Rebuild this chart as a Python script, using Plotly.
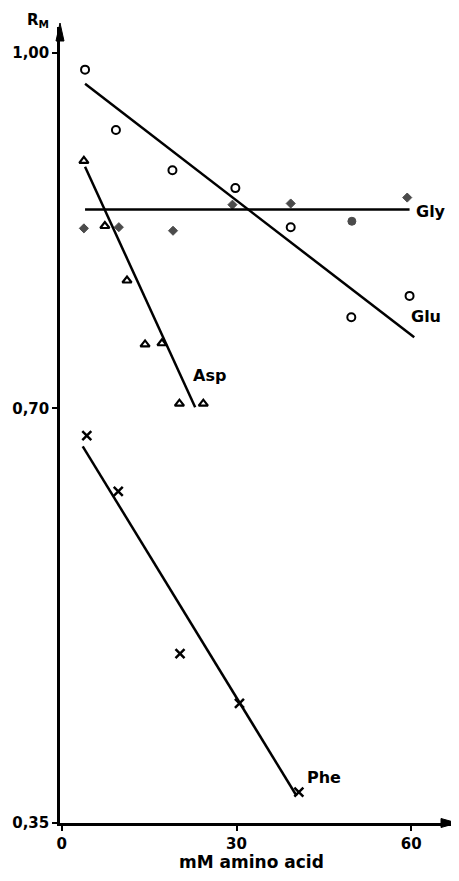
import plotly.graph_objects as go

# ---- data ----
glu_x = [4.0, 9.3, 19.0, 29.8, 39.3, 49.7, 59.7]
glu_y = [0.986, 0.935, 0.901, 0.886, 0.853, 0.777, 0.795]
gly_x = [3.8, 9.8, 19.1, 29.3, 39.3, 49.8, 59.3]
gly_y = [0.852, 0.853, 0.850, 0.872, 0.873, 0.858, 0.878]
asp_x = [3.8, 7.4, 11.2, 14.3, 17.2, 20.2, 24.3]
asp_y = [0.909, 0.854, 0.808, 0.754, 0.755, 0.704, 0.704]
phe_x = [4.3, 9.7, 20.3, 30.5, 40.7]
phe_y = [0.677, 0.630, 0.493, 0.451, 0.376]

# fitted lines (end points)
glu_line_x = [4.0, 60.5]
glu_line_y = [0.974, 0.760]
gly_line_x = [4.0, 59.7]
gly_line_y = [0.868, 0.868]
asp_line_x = [4.0, 22.9]
asp_line_y = [0.904, 0.701]
phe_line_x = [3.6, 40.3]
phe_line_y = [0.668, 0.373]

labels = ["Gly", "Glu", "Asp", "Phe"]
label_x = [60.5, 59.6, 22.1, 41.7]
label_y = [0.866, 0.778, 0.728, 0.388]

x_ticks = [0, 30, 60]
x_tick_text = ["0", "30", "60"]
y_ticks = [0.35, 0.70, 1.00]
y_tick_text = ["0,35", "0,70", "1,00"]

x_title = "mM amino acid"
y_title = "R<sub>M</sub>"

FONT = "DejaVu Sans"
fig = go.Figure()

for lx, ly in [(glu_line_x, glu_line_y), (gly_line_x, gly_line_y),
               (asp_line_x, asp_line_y), (phe_line_x, phe_line_y)]:
    fig.add_trace(go.Scatter(x=lx, y=ly, mode="lines",
                             line=dict(color="black", width=2.5),
                             showlegend=False, hoverinfo="skip"))

fig.add_trace(go.Scatter(x=glu_x, y=glu_y, mode="markers", name="Glu",
                         marker=dict(symbol="circle-open", size=8, color="black",
                                     line=dict(width=2, color="black"))))
gly_sym = ["diamond"] * len(gly_x)
gly_sym[5] = "circle"
gly_size = [7] * len(gly_x)
gly_size[5] = 8
fig.add_trace(go.Scatter(x=gly_x, y=gly_y, mode="markers", name="Gly",
                         marker=dict(symbol=gly_sym, size=gly_size, color="black",
                                     line=dict(width=1, color="black"))))
fig.add_trace(go.Scatter(x=asp_x, y=asp_y, mode="markers", name="Asp",
                         marker=dict(symbol="triangle-up-open", size=8, color="black",
                                     line=dict(width=2.2, color="black"))))
fig.add_trace(go.Scatter(x=phe_x, y=phe_y, mode="markers", name="Phe",
                         marker=dict(symbol="x-thin", size=9, color="black",
                                     line=dict(width=2.5, color="black"))))

for t, x, y in zip(labels, label_x, label_y):
    fig.add_annotation(x=x, y=y, text=t, showarrow=False, xanchor="left",
                       yanchor="middle",
                       font=dict(family=FONT, size=16, color="black", weight="bold"))

fig.add_annotation(xref="paper", yref="paper", x=-0.056, y=1.0226, yanchor="top",
                   xanchor="center", text=y_title, showarrow=False,
                   font=dict(family=FONT, size=15, color="black", weight="bold"))
fig.add_annotation(xref="x", yref="paper", x=32.6, y=0, yanchor="top", yshift=-27,
                   xanchor="center", text=x_title, showarrow=False,
                   font=dict(family=FONT, size=17, color="black", weight="bold"))

# axis arrowheads (pixel-sized shapes anchored at axis ends)
fig.add_shape(type="path", xref="paper", yref="paper", xsizemode="pixel",
              ysizemode="pixel", xanchor=0, yanchor=1,
              path="M -4 -14 L 0 4 L 4 -14 Z",
              fillcolor="black", line=dict(color="black", width=1))
fig.add_shape(type="path", xref="paper", yref="paper", xsizemode="pixel",
              ysizemode="pixel", xanchor=1, yanchor=0,
              path="M -14 -4.5 L 2 0 L -14 4.5 Z",
              fillcolor="black", line=dict(color="black", width=1))

# page body has an 8px default margin: figure is 8px smaller and offset
fig.update_layout(
    width=451, height=873,
    margin=dict(l=52, r=4, t=19, b=58),
    plot_bgcolor="white", paper_bgcolor="white",
    showlegend=False,
    xaxis=dict(range=[-0.3, 67.5], tickvals=x_ticks, ticktext=x_tick_text,
               automargin=False,
               showgrid=False, zeroline=False, showline=True, linewidth=2.5,
               linecolor="black", ticks="outside", ticklen=5, tickwidth=2,
               tickcolor="black",
               tickfont=dict(family=FONT, size=15, color="black", weight="bold")),
    yaxis=dict(range=[0.35, 1.022], tickvals=y_ticks, ticktext=y_tick_text,
               automargin=False,
               showgrid=False, zeroline=False, showline=True, linewidth=2.5,
               linecolor="black", ticks="outside", ticklen=5, tickwidth=2,
               tickcolor="black",
               tickfont=dict(family=FONT, size=15, color="black", weight="bold")),
)

fig.write_html("out.html")
